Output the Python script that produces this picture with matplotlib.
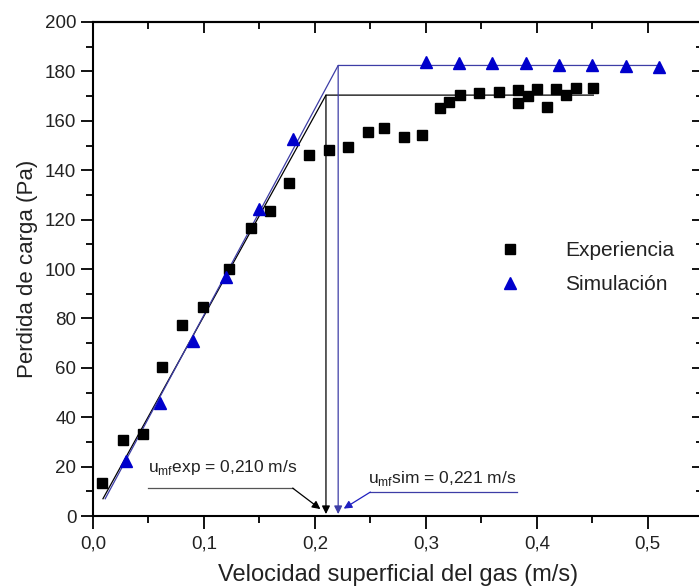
import matplotlib
matplotlib.use("Agg")
import matplotlib.pyplot as plt
from matplotlib.ticker import MultipleLocator

plt.rcParams['font.family'] = ['Liberation Sans', 'DejaVu Sans']

# ------------------------------------------------------------
# Data
# ------------------------------------------------------------
exp_x = [0.008, 0.027, 0.045, 0.062, 0.080, 0.099, 0.123, 0.142, 0.160, 0.177,
         0.195, 0.213, 0.230, 0.248, 0.262, 0.280, 0.297, 0.313, 0.321, 0.331,
         0.348, 0.366, 0.383, 0.383, 0.392, 0.400, 0.409, 0.417, 0.426, 0.435,
         0.451]
exp_y = [13.3, 30.7, 33.3, 60.4, 77.2, 84.5, 100.0, 116.5, 123.4, 135.0,
         146.3, 148.0, 149.4, 155.5, 157.0, 153.3, 154.2, 165.2, 167.6, 170.4,
         171.3, 171.7, 172.5, 167.2, 170.1, 172.9, 165.7, 172.9, 170.5, 173.2,
         173.3]

sim_x = [0.030, 0.060, 0.090, 0.120, 0.150, 0.180, 0.300, 0.330, 0.360, 0.390,
         0.420, 0.450, 0.480, 0.510]
sim_y = [22.3, 45.8, 71.0, 96.8, 124.2, 152.5, 183.9, 183.4, 183.2, 183.2,
         182.6, 182.6, 182.2, 181.8]

# fitted bed lines: start, u_mf corner, plateau end
exp_fit_x = [0.009, 0.210, 0.451]
exp_fit_y = [7.0, 170.4, 170.4]
sim_fit_x = [0.011, 0.221, 0.510]
sim_fit_y = [7.0, 182.4, 182.4]

umf_exp = 0.210
umf_sim = 0.221

xlim = (0.0, 0.55)
ylim = (0, 200)

blue_line = "#3d3da6"
txt = "#222222"

# ------------------------------------------------------------
# Figure
# ------------------------------------------------------------
fig = plt.figure(figsize=(6.99, 5.88), dpi=100)
ax = fig.add_axes([0.133, 0.1224, 0.873, 0.8402])

ax.plot(exp_fit_x, exp_fit_y, color="black", lw=0.9, zorder=2)
ax.plot(sim_fit_x, sim_fit_y, color=blue_line, lw=0.9, zorder=2)

ax.plot(exp_x, exp_y, "s", color="black", ms=7.5, ls="none", zorder=3,
        label="Experiencia")
ax.plot(sim_x, sim_y, "^", color="#0000cc", ms=9, ls="none", zorder=3,
        label="Simulación")

# vertical drop arrows at u_mf
ax.annotate("", xy=(umf_exp, 0.8), xytext=(umf_exp, exp_fit_y[1]),
            arrowprops=dict(arrowstyle="-|>", color="black", lw=0.9,
                            mutation_scale=12, shrinkA=0, shrinkB=0))
ax.annotate("", xy=(umf_sim, 0.8), xytext=(umf_sim, sim_fit_y[1]),
            arrowprops=dict(arrowstyle="-|>", color=blue_line, lw=0.9,
                            mutation_scale=12, shrinkA=0, shrinkB=0))

# experimental label with leader
ax.text(0.0495, 19.5, r"u$_{\mathregular{mf}}$exp = 0,210 m/s", fontsize=12.5,
        color=txt, va="center", ha="left")
ax.plot([0.050, 0.180], [11.3, 11.3], color="#555555", lw=0.9)
ax.annotate("", xy=(0.205, 2.8), xytext=(0.180, 11.3),
            arrowprops=dict(arrowstyle="-|>", color="black", lw=0.9,
                            mutation_scale=12, shrinkA=0, shrinkB=0))

# simulation label with leader
ax.text(0.248, 15, r"u$_{\mathregular{mf}}$sim = 0,221 m/s", fontsize=12.5,
        color=txt, va="center", ha="left")
ax.plot([0.250, 0.382], [9.7, 9.7], color=blue_line, lw=0.9)
ax.annotate("", xy=(0.226, 3.0), xytext=(0.250, 9.7),
            arrowprops=dict(arrowstyle="-|>", color="#2020c0", lw=0.9,
                            mutation_scale=12, shrinkA=0, shrinkB=0))

ax.set_xlim(*xlim)
ax.set_ylim(*ylim)

ax.xaxis.set_major_locator(MultipleLocator(0.1))
ax.xaxis.set_minor_locator(MultipleLocator(0.05))
ax.yaxis.set_major_locator(MultipleLocator(20))
ax.yaxis.set_minor_locator(MultipleLocator(10))
ax.xaxis.set_major_formatter(plt.FuncFormatter(lambda v, p: f"{v:.1f}".replace(".", ",")))

ax.tick_params(which="both", direction="out", width=1.3, labelsize=13.5,
               labelcolor=txt, top=False, right=False)
ax.tick_params(which="major", length=9, pad=3)
ax.tick_params(which="minor", length=5)
ax.tick_params(axis="x", which="major", pad=5)
for s in ax.spines.values():
    s.set_linewidth(1.5)

# inward ticks on top and right
top = ax.secondary_xaxis("top")
top.xaxis.set_major_locator(MultipleLocator(0.1))
top.xaxis.set_minor_locator(MultipleLocator(0.05))
top.tick_params(which="both", direction="in", width=1.3, labeltop=False)
top.tick_params(which="major", length=8)
top.tick_params(which="minor", length=5)
top.spines["top"].set_linewidth(1.5)

right = ax.secondary_yaxis("right")
right.yaxis.set_major_locator(MultipleLocator(20))
right.yaxis.set_minor_locator(MultipleLocator(10))
right.tick_params(which="both", direction="in", width=1.3, labelright=False)
right.tick_params(which="major", length=8)
right.tick_params(which="minor", length=5)
right.spines["right"].set_linewidth(1.5)

ax.set_xlabel("Velocidad superficial del gas (m/s)", fontsize=17,
              color=txt, labelpad=8)
ax.set_ylabel("Perdida de carga (Pa)", fontsize=16, color=txt,
              labelpad=5)

ax.legend(loc="upper left", bbox_to_anchor=(0.627, 0.595), frameon=False,
          fontsize=15, handletextpad=1.9, labelspacing=0.75, markerscale=1.0,
          handlelength=1.5, labelcolor=txt)

fig.savefig("out.png", dpi=100)
